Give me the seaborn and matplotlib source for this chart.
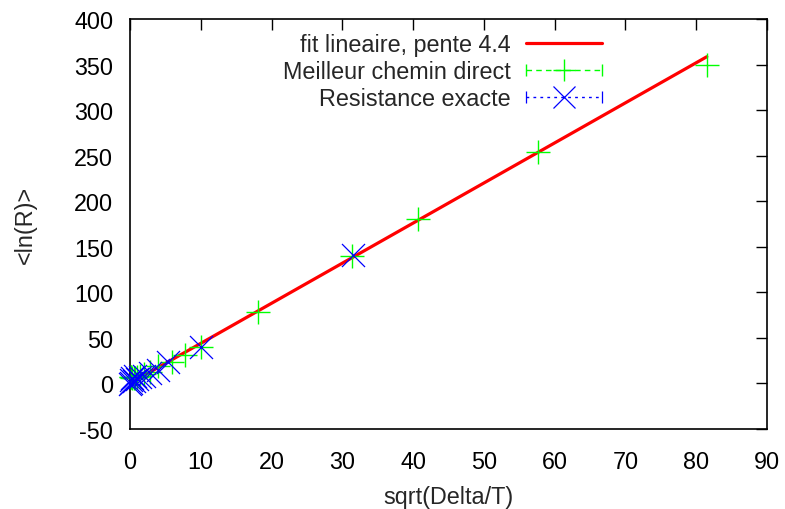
import numpy as np
import pandas as pd
import matplotlib
matplotlib.use("Agg")
import matplotlib.pyplot as plt
import seaborn as sns
from matplotlib.lines import Line2D
from matplotlib.legend_handler import HandlerErrorbar

# data
direct_x = [0.1, 0.2, 0.3, 0.5, 0.7, 1.0, 1.4, 2.0, 2.8, 4.0, 5.9, 7.8, 10.0, 18.1, 31.4, 40.7, 57.6, 81.5]
direct_y = [7, 7.5, 6, 5.5, 6, 7, 8, 10, 13, 19, 23, 31, 40, 78, 140, 180, 254, 350]
exact_x = [0.05, 0.1, 0.2, 0.3, 0.5, 0.7, 1.0, 1.4, 2.0, 2.8, 4.0, 5.4, 10.0, 31.5]
exact_y = [-1, 4, 1, 6, 3, 8, 5, 7, 8, 11, 15, 23.5, 40, 141]
slope = 4.4
fit_x = [0.0, 81.5]

x_ticks = [0, 10, 20, 30, 40, 50, 60, 70, 80, 90]
y_ticks = [-50, 0, 50, 100, 150, 200, 250, 300, 350, 400]

sns.set_style("white")
plt.rcParams['font.family'] = ['Liberation Sans', 'DejaVu Sans']
plt.rcParams['axes.unicode_minus'] = False

fig = plt.figure(figsize=(7.85, 5.10), dpi=100)
ax = fig.add_axes([130/785, 1-430/510, (767-130)/785, 410/510])

fit_df = pd.DataFrame({"x": fit_x, "y": [slope * v for v in fit_x]})
d_df = pd.DataFrame({"x": direct_x, "y": direct_y})
e_df = pd.DataFrame({"x": exact_x, "y": exact_y})

green = '#00ff00'
blue = '#0000ff'
red = '#ff0000'

sns.lineplot(data=fit_df, x="x", y="y", ax=ax, color=red, lw=2.3, zorder=3, legend=False)
sns.scatterplot(data=d_df, x="x", y="y", ax=ax, marker='+', s=290, color=green,
                linewidth=1.0, zorder=4, legend=False, clip_on=False)
sns.scatterplot(data=e_df, x="x", y="y", ax=ax, marker='x', s=275, color=blue,
                linewidth=0.9, zorder=5, legend=False, clip_on=False)

ax.set_xlim(0, 90)
ax.set_ylim(-50, 400)
ax.set_xticks(x_ticks)
ax.set_yticks(y_ticks)
fs = 16.8
ax.tick_params(direction='in', length=8, width=1, top=True, right=True,
               labelsize=fs, colors='black')
ax.tick_params(axis='x', pad=15)
ax.tick_params(axis='y', pad=12)
for s in ax.spines.values():
    s.set_color('black')
    s.set_linewidth(1.2)
ax.set_xlabel("sqrt(Delta/T)", fontsize=fs, labelpad=9)
ax.set_ylabel("<ln(R)>", fontsize=fs, labelpad=27)

# legend proxies
h_fit = Line2D([], [], color=red, lw=2.3)
h_dir = ax.errorbar([np.nan], [np.nan], xerr=[1], fmt='+', color=green, ms=16,
                    mew=1.0, capsize=4, elinewidth=1)
h_dir[2][0].set_linestyle((0, (4, 3)))
h_exa = ax.errorbar([np.nan], [np.nan], xerr=[1], fmt='x', color=blue, ms=16,
                    mew=0.9, capsize=4, elinewidth=1)
h_exa[2][0].set_linestyle((0, (2, 3)))

hl = 3.25
leg = ax.legend([h_fit, h_dir, h_exa],
                ["fit lineaire, pente 4.4", "Meilleur chemin direct", "Resistance exacte"],
                loc='upper right', bbox_to_anchor=(602/785, 1-34/510),
                bbox_transform=fig.transFigure, frameon=False, markerfirst=False,
                fontsize=fs, handlelength=hl, handletextpad=0.65, labelspacing=0.18,
                borderpad=0, borderaxespad=0,
                handler_map={type(h_dir): HandlerErrorbar(xerr_size=hl/2)})

fig.savefig("out.png", dpi=100)
